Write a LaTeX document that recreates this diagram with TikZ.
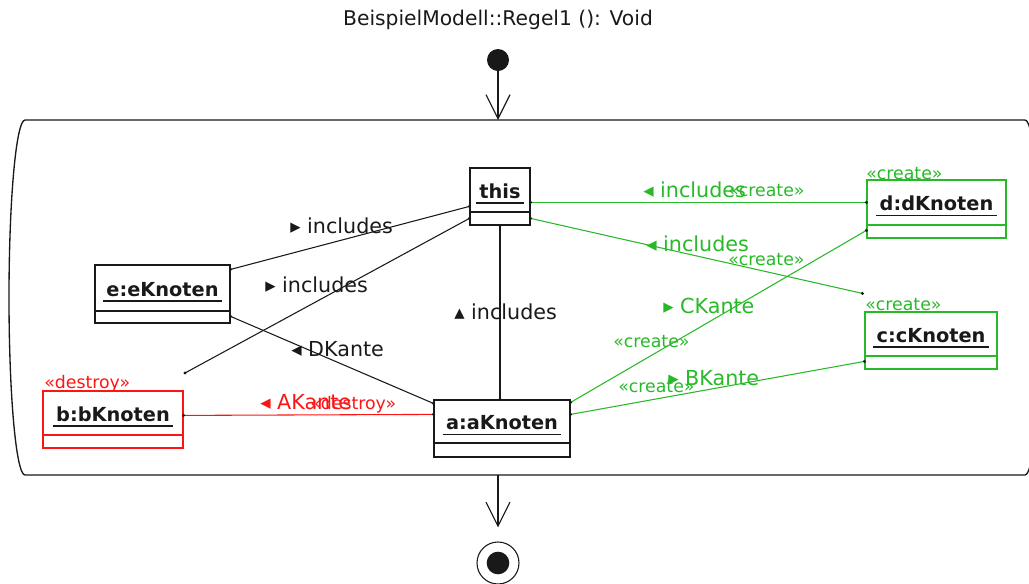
\documentclass[tikz,border=0pt]{standalone}
\usepackage{fontspec}
\setmainfont{DejaVu Sans}
\usetikzlibrary{arrows.meta,fit,calc}
\definecolor{umlgreen}{RGB}{40,185,40}
\definecolor{umlred}{RGB}{255,20,20}
\definecolor{ink}{RGB}{25,25,25}
\newcommand{\objbox}[8]{%
  \coordinate (#1-nw) at (#3,#4);
  \coordinate (#1-se) at (#5,#6);
  \node[objframe, draw=#2, fit=(#1-nw)(#1-se)] (#1) {};
  \draw[line width=0.9pt, #2] (#3,#7) -- (#5,#7);
  \node[objname, anchor=base] (#1-name) at ({(#3+#5)/2},{(#4+#7)/2+8}) {#8};
  \draw[line width=1.1pt, ink] ($(#1-name.base west)+(-3,5)$) -- ($(#1-name.base east)+(3,5)$);
}
\begin{document}
\begin{tikzpicture}[x=0.75pt,y=-0.75pt,
  objframe/.style={line width=0.9pt, inner sep=0pt},
  objname/.style={font=\fontsize{14.5}{16}\selectfont\bfseries, text=ink, inner sep=0pt},
  lbl/.style={font=\fontsize{15.5}{17}\selectfont, inner sep=0pt, anchor=west},
  stereo/.style={font=\fontsize{13}{14}\selectfont, inner sep=0pt, anchor=west},
  conn/.style={line width=0.8pt},
  flow/.style={line width=0.9pt, ink, -{Straight Barb[length=18pt,width=18pt,line width=0.9pt]}}
]
\useasboundingbox (0,0) rectangle (1029,583);

% title and start
\node[font=\fontsize{15.2}{17}\selectfont, text=ink, inner sep=0pt] (title) at (498,20) {BeispielModell::Regel1 (): Void};
\node[circle, fill=ink, minimum size=16.5pt, inner sep=0pt] (start) at (498,60) {};

% frame
\draw[line width=1pt, ink] (25,120) -- (1025,120)
  arc[start angle=-90, end angle=90, x radius=16, y radius=177.5]
  -- (25,475)
  arc[start angle=90, end angle=270, x radius=16, y radius=177.5] -- cycle;
\coordinate (frametop) at (498,120);
\coordinate (framebot) at (498,475);

% final
\node[circle, draw=ink, line width=0.8pt, minimum size=31.5pt, inner sep=0pt] (final) at (498,563) {};
\node[circle, fill=ink, minimum size=17pt, inner sep=0pt] (finalin) at (498,563) {};

\draw[flow] (start) -- (frametop);
\draw[flow, shorten >=10.5pt] (framebot) -- (final.north);

% objects
\objbox{this}{ink}{470}{168}{530}{225}{212}{this}
\objbox{e}{ink}{95}{265}{230}{323}{311}{e:eKnoten}
\objbox{b}{umlred}{43}{391}{183}{448}{435}{b:bKnoten}
\objbox{a}{ink}{434}{400}{570}{457}{443}{a:aKnoten}
\objbox{d}{umlgreen}{867}{180}{1006}{238}{225}{d:dKnoten}
\objbox{c}{umlgreen}{865}{312}{997}{369}{356}{c:cKnoten}

\node[stereo, text=umlred] (bst) at (44,384) {«destroy»};
\node[stereo, text=umlgreen] (dst) at (866,174) {«create»};
\node[stereo, text=umlgreen] (cst) at (865,305) {«create»};

% connector end points
\coordinate (this-l1) at ($(this.north west)+(0,39)$);
\coordinate (this-l2) at ($(this.north west)+(0,51)$);
\coordinate (this-r1) at ($(this.north east)+(0,35)$);
\coordinate (this-r2) at ($(this.north east)+(0,51)$);
\coordinate (this-b) at (this.south);
\coordinate (e-r1) at ($(e.north east)+(0,5)$);
\coordinate (e-r2) at ($(e.north east)+(0,52)$);
\coordinate (bfree) at (185,373);
\coordinate (a-t) at (this.south |- a.north);
\coordinate (a-l1) at ($(a.north west)+(0,4)$);
\coordinate (a-l2) at ($(a.north west)+(0,15)$);
\coordinate (a-r1) at ($(a.north east)+(0,3)$);
\coordinate (a-r2) at ($(a.north east)+(0,15)$);
\coordinate (b-r) at ($(b.north east)+(0,25)$);
\coordinate (d-l1) at ($(d.north west)+(0,23)$);
\coordinate (d-l2) at ($(d.north west)+(0,51)$);
\coordinate (cfree) at ($(c.north west)+(-2,-18)$);
\coordinate (c-l) at ($(c.north west)+(0,50)$);

% black connectors
\draw[conn, ink] (this-l1) -- (e-r1);
\draw[conn, ink] (this-l2) -- (bfree);
\draw[conn, ink] (this-b) -- (a-t);
\draw[conn, ink] (e-r2) -- (a-l1);
\foreach \p in {this-l1,e-r1,this-l2,bfree,this-b,a-t,e-r2,a-l1} \fill[ink] (\p) circle (1.7);

% red connector
\draw[conn, umlred] (b-r) -- (a-l2);
\fill[ink] (b-r) circle (1.7);
\fill[ink] (a-l2) circle (1.7);

% green connectors
\draw[conn, umlgreen] (this-r1) -- (d-l1);
\draw[conn, umlgreen] (this-r2) -- (cfree);
\draw[conn, umlgreen] (a-r1) -- (d-l2);
\draw[conn, umlgreen] (a-r2) -- (c-l);
\foreach \p in {this-r1,d-l1,this-r2,cfree,a-r1,d-l2,a-r2,c-l} \fill[ink] (\p) circle (1.7);

% labels black
\node[lbl, text=ink] (l1) at (290,226) {▸ includes};
\node[lbl, text=ink] (l2) at (265,285) {▸ includes};
\node[lbl, text=ink] (l3) at (454,312) {▴ includes};
\node[lbl, text=ink] (l4) at (291,349) {◂ DKante};

% labels red
\node[lbl, text=umlred] (l5) at (260,402) {◂ AKante};
\node[stereo, text=umlred] (l5s) at (310,405) {«destroy»};

% labels green
\node[lbl, text=umlgreen] (l6) at (643,190) {◂ includes};
\node[stereo, text=umlgreen] (l6s) at (728,191) {«create»};
\node[lbl, text=umlgreen] (l7) at (646,244) {◂ includes};
\node[stereo, text=umlgreen] (l7s) at (728,260) {«create»};
\node[lbl, text=umlgreen] (l8) at (663,306) {▸ CKante};
\node[stereo, text=umlgreen] (l8s) at (613,342) {«create»};
\node[lbl, text=umlgreen] (l9) at (668,378) {▸ BKante};
\node[stereo, text=umlgreen] (l9s) at (618,387) {«create»};
\end{tikzpicture}
\end{document}
